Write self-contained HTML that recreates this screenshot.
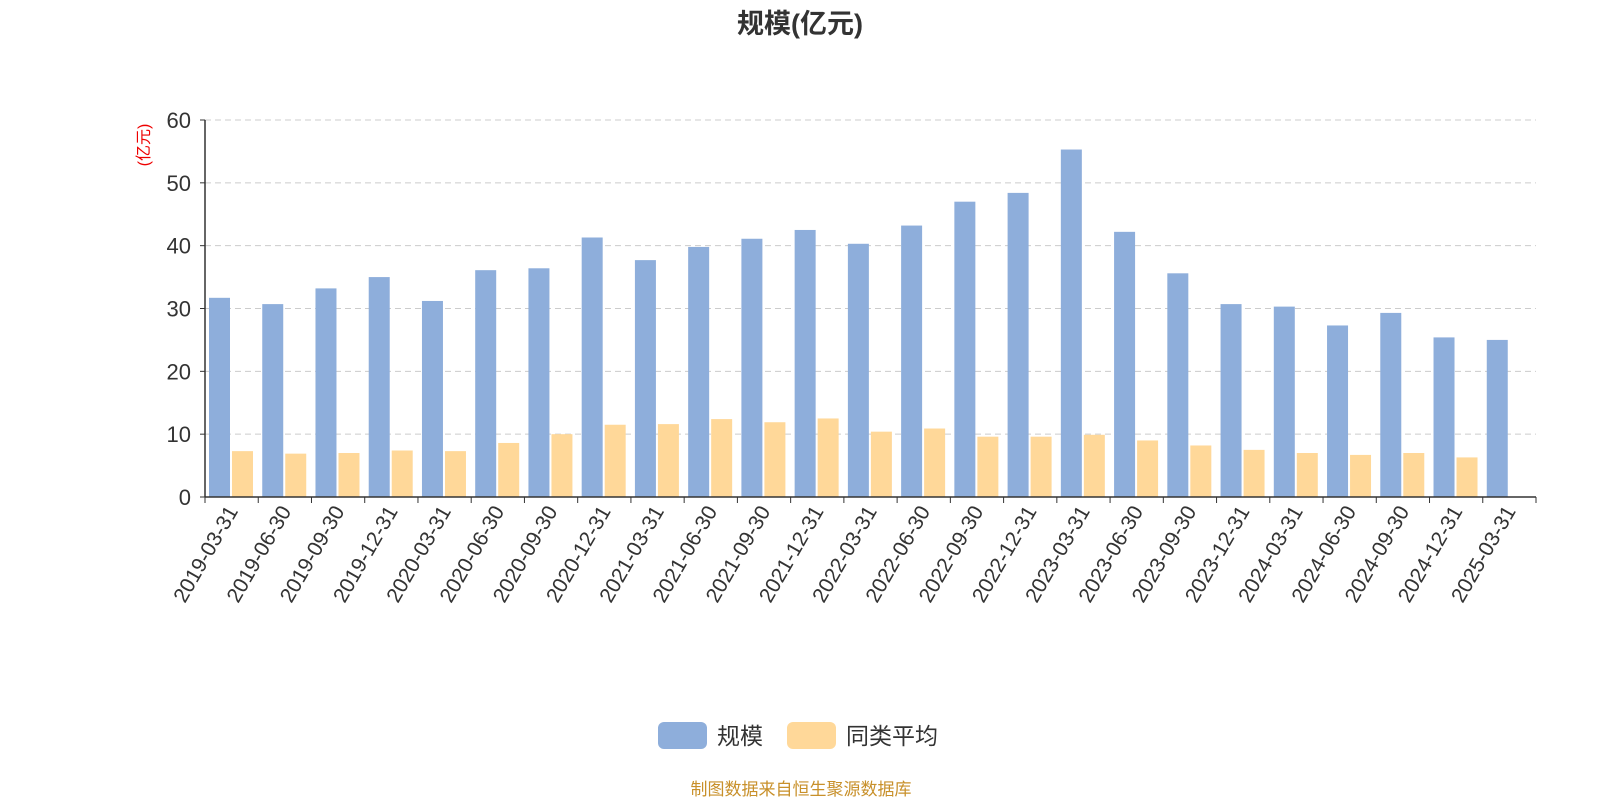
<!DOCTYPE html>
<html><head><meta charset="utf-8">
<style>
body{margin:0;background:#fff;}
svg{display:block;font-family:"Liberation Sans","Noto Sans CJK SC",sans-serif;}
</style></head>
<body>
<svg id="chart" width="1600" height="800" viewBox="0 0 1600 800" xmlns="http://www.w3.org/2000/svg">
<text x="800" y="33" text-anchor="middle" font-size="27" font-weight="bold" fill="#333">规模(亿元)</text>
<text transform="translate(149,145) rotate(-90)" text-anchor="middle" font-size="16" fill="#e00">(亿元)</text>
<g id="grid"></g><g id="bars"></g><g id="axes"></g>
<g>
<g><rect x="658" y="722" width="49" height="27" rx="6" fill="#8eaedb"/><text x="717" y="744" font-size="23" fill="#333">规模</text></g>
<g><rect x="787" y="722" width="49" height="27" rx="6" fill="#ffd899"/><text x="846" y="744" font-size="23" fill="#333">同类平均</text></g>
</g>
<text x="801" y="795" text-anchor="middle" font-size="17" fill="#c8902a">制图数据来自恒生聚源数据库</text>
</svg>
<script>
const categories=["2019-03-31","2019-06-30","2019-09-30","2019-12-31","2020-03-31","2020-06-30","2020-09-30","2020-12-31","2021-03-31","2021-06-30","2021-09-30","2021-12-31","2022-03-31","2022-06-30","2022-09-30","2022-12-31","2023-03-31","2023-06-30","2023-09-30","2023-12-31","2024-03-31","2024-06-30","2024-09-30","2024-12-31","2025-03-31"];
const scaleValues=[31.7,30.7,33.2,35.0,31.2,36.1,36.4,41.3,37.7,39.8,41.1,42.5,40.3,43.2,47.0,48.4,55.3,42.2,35.6,30.7,30.3,27.3,29.3,25.4,25.0];
const peerAverage=[7.3,6.9,7.0,7.4,7.3,8.6,10.0,11.5,11.6,12.4,11.9,12.5,10.4,10.9,9.6,9.6,9.9,9.0,8.2,7.5,7.0,6.7,7.0,6.3,null];
const yTicks=[0,10,20,30,40,50,60];
const NS="http://www.w3.org/2000/svg";
const x0=205,x1=1536,y0=497,y1=120,yMax=60;
const bw=(x1-x0)/categories.length;
const yS=v=>y0-(v/yMax)*(y0-y1);
const xS=i=>x0+i*bw;
function mk(t,a,p){const e=document.createElementNS(NS,t);for(const k in a)e.setAttribute(k,a[k]);p.appendChild(e);return e;}
const grid=document.getElementById('grid'),bars=document.getElementById('bars'),axes=document.getElementById('axes');
yTicks.forEach(t=>{
  const y=yS(t);
  if(t>0){const g=mk('line',{x1:x0,x2:x1,y1:y,y2:y,stroke:'#ccc','stroke-dasharray':'6,4'},grid);
  
  }
  const tk=mk('line',{x1:x0-5,x2:x0,y1:y,y2:y,stroke:'#333'},axes);
  
  
  const tx=mk('text',{x:x0-14,y:y+8,'text-anchor':'end','font-size':'22',fill:'#333'},axes);
  tx.textContent=t;
  
  
});
categories.forEach((c,i)=>{
  const xs=xS(i);
  const b=mk('rect',{x:xs+4,y:yS(scaleValues[i]),width:21,height:y0-yS(scaleValues[i]),fill:'#8eaedb'},bars);
  
  
  if(peerAverage[i]!=null){
    const o=mk('rect',{x:xs+27,y:yS(peerAverage[i]),width:21,height:y0-yS(peerAverage[i]),fill:'#ffd899'},bars);
    
    
  }
  const tk=mk('line',{x1:xs,x2:xs,y1:y0,y2:y0+6,stroke:'#333'},axes);
  
  
  const cx=xs+bw/2;
  const tx=mk('text',{transform:`translate(${cx+7},${y0+14}) rotate(-60)`,'text-anchor':'end','font-size':'21',fill:'#333'},axes);
  tx.textContent=c;
  
  
});
const lt=mk('line',{x1:x1,x2:x1,y1:y0,y2:y0+6,stroke:'#333'},axes);


const xa=mk('line',{x1:x0,x2:x1,y1:y0,y2:y0,stroke:'#333','stroke-width':'1.5'},axes);


const ya=mk('line',{x1:x0,x2:x0,y1:y1,y2:y0,stroke:'#333','stroke-width':'1.5'},axes);


</script>
</body></html>
